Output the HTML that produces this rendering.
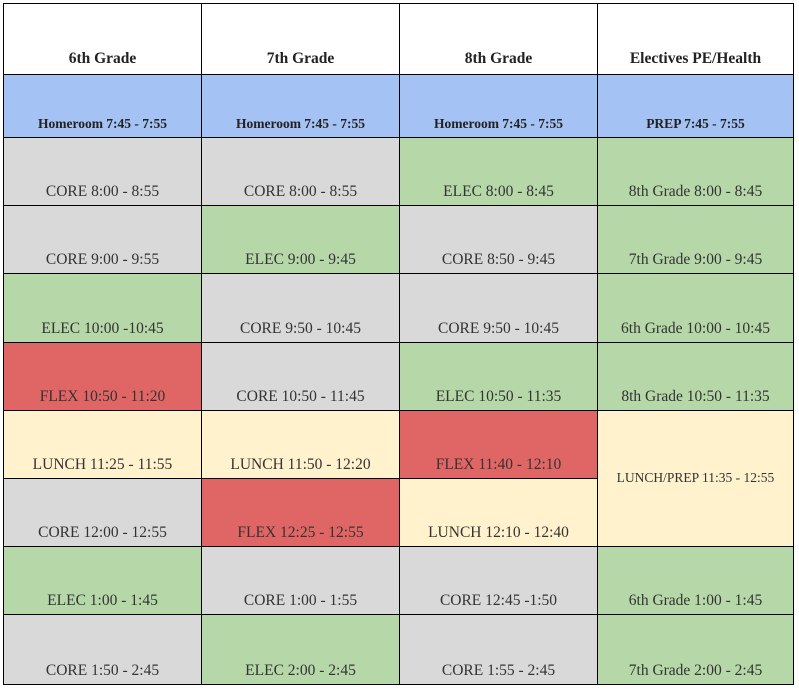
<!DOCTYPE html>
<html><head><meta charset="utf-8"><style>
body{margin:0;background:#fff;width:799px;height:690px;position:relative;overflow:hidden;font-family:"Liberation Serif",serif;}
#grid{position:absolute;left:0;top:0;width:799px;height:690px;}
.cell{position:absolute;display:flex;align-items:flex-end;justify-content:center;box-sizing:border-box;padding-bottom:4px;color:#333;font-size:15.5px;white-space:nowrap;}
.line{position:absolute;background:#000;}
</style></head><body>
<div id="grid"></div>
<script>
const xs=[3,201,399,597,793];
const ys=[3,74,137,205,273,342,410,478,546,614,684];
const C={w:'#ffffff',b:'#a4c2f4',g:'#d9d9d9',n:'#b6d7a8',r:'#e06666',y:'#fff2cc'};
// [col,rowStart,rowSpan,text,color,style]
const cells=[
[0,0,1,'6th Grade','w','h'],[1,0,1,'7th Grade','w','h'],[2,0,1,'8th Grade','w','h'],[3,0,1,'Electives PE/Health','w','h'],
[0,1,1,'Homeroom 7:45 - 7:55','b','hr'],[1,1,1,'Homeroom 7:45 - 7:55','b','hr'],[2,1,1,'Homeroom 7:45 - 7:55','b','hr'],[3,1,1,'PREP 7:45 - 7:55','b','hr'],
[0,2,1,'CORE 8:00 - 8:55','g'],[1,2,1,'CORE 8:00 - 8:55','g'],[2,2,1,'ELEC 8:00 - 8:45','n'],[3,2,1,'8th Grade 8:00 - 8:45','n'],
[0,3,1,'CORE 9:00 - 9:55','g'],[1,3,1,'ELEC 9:00 - 9:45','n'],[2,3,1,'CORE 8:50 - 9:45','g'],[3,3,1,'7th Grade 9:00 - 9:45','n'],
[0,4,1,'ELEC 10:00 -10:45','n'],[1,4,1,'CORE 9:50 - 10:45','g'],[2,4,1,'CORE 9:50 - 10:45','g'],[3,4,1,'6th Grade 10:00 - 10:45','n'],
[0,5,1,'FLEX 10:50 - 11:20','r'],[1,5,1,'CORE 10:50 - 11:45','g'],[2,5,1,'ELEC 10:50 - 11:35','n'],[3,5,1,'8th Grade 10:50 - 11:35','n'],
[0,6,1,'LUNCH 11:25 - 11:55','y'],[1,6,1,'LUNCH 11:50 - 12:20','y'],[2,6,1,'FLEX 11:40 - 12:10','r'],[3,6,2,'LUNCH/PREP 11:35 - 12:55','y','mid'],
[0,7,1,'CORE 12:00 - 12:55','g'],[1,7,1,'FLEX 12:25 - 12:55','r'],[2,7,1,'LUNCH 12:10 - 12:40','y'],
[0,8,1,'ELEC 1:00 - 1:45','n'],[1,8,1,'CORE 1:00 - 1:55','g'],[2,8,1,'CORE 12:45 -1:50','g'],[3,8,1,'6th Grade 1:00 - 1:45','n'],
[0,9,1,'CORE 1:50 - 2:45','g'],[1,9,1,'ELEC 2:00 - 2:45','n'],[2,9,1,'CORE 1:55 - 2:45','g'],[3,9,1,'7th Grade 2:00 - 2:45','n']
];
const g=document.getElementById('grid');
const bg=document.createElement('div');
bg.className='line';
bg.style.cssText=`left:${xs[0]}px;top:${ys[0]}px;width:${xs[4]-xs[0]+1}px;height:${ys[10]-ys[0]+1}px;`;


g.appendChild(bg);
cells.forEach(c=>{
  const [col,r,span,t,color,st]=c;
  const d=document.createElement('div');
  d.className='cell';
  const x=xs[col]+1,y=ys[r]+1,w=xs[col+1]-xs[col]-1,h=ys[r+span]-ys[r]-1;
  d.style.cssText+=`left:${x}px;top:${y}px;width:${w}px;height:${h}px;background:${C[color]};`;
  if(st==='h'){d.style.fontWeight='bold';d.style.fontSize='15.5px';d.style.paddingBottom='6px';d.style.color='#222';}
  if(st==='hr'){d.style.fontWeight='bold';d.style.fontSize='13.5px';d.style.paddingBottom='5px';d.style.color='#222';}
  if(st==='mid'){d.style.alignItems='center';d.style.fontSize='13.5px';d.style.paddingBottom='2px';}
  d.textContent=t;
  
  
  g.appendChild(d);
});
</script>
</body></html>
